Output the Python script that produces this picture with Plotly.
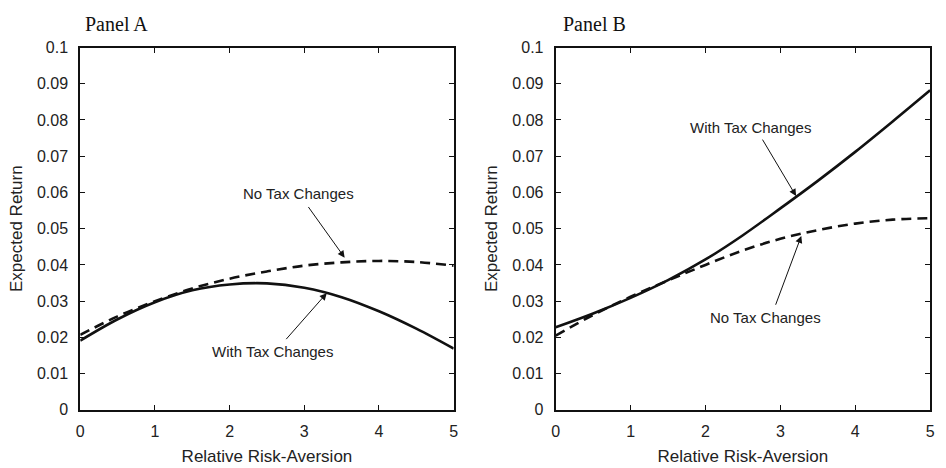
import plotly.graph_objects as go

# ---- data ----
risk_aversion = [0, 0.5, 1, 1.5, 2, 2.5, 3, 3.5, 4, 4.5, 5]
a_with_tax = [0.0191, 0.0250, 0.0297, 0.0330, 0.0346, 0.0349, 0.0337, 0.0311, 0.0272, 0.0224, 0.0169]
a_no_tax = [0.0207, 0.0258, 0.0300, 0.0335, 0.0362, 0.0382, 0.0398, 0.0407, 0.0411, 0.0408, 0.0398]
b_with_tax = [0.0228, 0.0266, 0.0309, 0.0358, 0.0415, 0.0482, 0.0556, 0.0632, 0.0712, 0.0796, 0.0882]
b_no_tax = [0.0205, 0.0262, 0.0312, 0.0357, 0.0400, 0.0440, 0.0472, 0.0496, 0.0514, 0.0525, 0.0529]

x_ticks = [0, 1, 2, 3, 4, 5]
y_ticks = [0, 0.01, 0.02, 0.03, 0.04, 0.05, 0.06, 0.07, 0.08, 0.09, 0.1]
y_tick_labels = ["0", "0.01", "0.02", "0.03", "0.04", "0.05", "0.06", "0.07", "0.08", "0.09", "0.1"]

panel_titles = ["Panel A", "Panel B"]
x_title = "Relative Risk-Aversion"
y_title = "Expected Return"
label_with = "With Tax Changes"
label_no = "No Tax Changes"

W, H = 946, 468
fig = go.Figure()

line_solid = dict(color="#111111", width=2.6)
line_dash = dict(color="#111111", width=2.6, dash="10px,6px")

fig.add_trace(go.Scatter(x=risk_aversion, y=a_no_tax, mode="lines", line=line_dash,
                         line_shape="spline", xaxis="x", yaxis="y", showlegend=False))
fig.add_trace(go.Scatter(x=risk_aversion, y=a_with_tax, mode="lines", line=line_solid,
                         line_shape="spline", xaxis="x", yaxis="y", showlegend=False))
fig.add_trace(go.Scatter(x=risk_aversion, y=b_no_tax, mode="lines", line=line_dash,
                         line_shape="spline", xaxis="x2", yaxis="y2", showlegend=False))
fig.add_trace(go.Scatter(x=risk_aversion, y=b_with_tax, mode="lines", line=line_solid,
                         line_shape="spline", xaxis="x2", yaxis="y2", showlegend=False))

tick_font = dict(family="Liberation Sans, Arial, sans-serif", size=16, color="#222222")
title_font = dict(family="Liberation Sans, Arial, sans-serif", size=17, color="#222222")

def xax(domain, anchor):
    return dict(domain=domain, anchor=anchor, range=[0, 5], tickvals=x_ticks,
                ticks="inside", ticklen=5, tickwidth=1, tickcolor="#111111",
                showline=True, linecolor="#111111", linewidth=2, mirror="ticks",
                showgrid=False, zeroline=False, tickfont=tick_font, ticklabelstandoff=6,
                title=dict(text=x_title, font=title_font, standoff=11))

def yax(domain, anchor):
    return dict(domain=domain, anchor=anchor, range=[0, 0.1], tickvals=y_ticks,
                ticktext=y_tick_labels,
                ticks="inside", ticklen=5, tickwidth=1, tickcolor="#111111",
                showline=True, linecolor="#111111", linewidth=2, mirror="ticks",
                showgrid=False, zeroline=False, tickfont=tick_font, ticklabelstandoff=7,
                title=dict(text=y_title, font=title_font, standoff=10))

ydom = [51 / H, 427 / H]
fig.update_layout(
    width=W, height=H,
    margin=dict(l=0, r=0, t=0, b=0),
    paper_bgcolor="white", plot_bgcolor="white",
    xaxis=xax([77 / W, 454 / W], "y"),
    yaxis=yax(ydom, "x"),
    xaxis2=xax([557 / W, 935 / W], "y2"),
    yaxis2=yax(ydom, "x2"),
)

ann_font = dict(family="Liberation Sans, Arial, sans-serif", size=15, color="#222222")
annotations = []

def arrow(xref, yref, tip, tail):
    return dict(x=tip[0], y=tip[1], ax=tail[0], ay=tail[1], xref=xref, yref=yref,
                axref=xref, ayref=yref, showarrow=True, arrowhead=2, arrowsize=1.4,
                arrowwidth=1, arrowcolor="#111111", text="", standoff=0)

def label(xref, yref, pos, text):
    return dict(x=pos[0], y=pos[1], xref=xref, yref=yref, text=text, showarrow=False,
                font=ann_font, xanchor="center", yanchor="middle")

# Panel A
annotations.append(label("x", "y", (2.92, 0.0598), label_no))
annotations.append(arrow("x", "y", (3.54, 0.0420), (3.04, 0.0564)))
annotations.append(label("x", "y", (2.58, 0.0160), label_with))
annotations.append(arrow("x", "y", (3.30, 0.0322), (2.74, 0.0191)))
# Panel B
annotations.append(label("x2", "y2", (2.60, 0.0779), label_with))
annotations.append(arrow("x2", "y2", (3.21, 0.0590), (2.75, 0.0750)))
annotations.append(label("x2", "y2", (2.80, 0.0256), label_no))
annotations.append(arrow("x2", "y2", (3.28, 0.0480), (2.93, 0.0286)))

# Panel titles
serif = dict(family="Liberation Serif, Times New Roman, serif", size=20, color="#111111")
annotations.append(dict(x=80 / W, y=1 - 17 / H, xref="paper", yref="paper", text=panel_titles[0],
                        showarrow=False, font=serif, xanchor="left", yanchor="middle"))
annotations.append(dict(x=562 / W, y=1 - 17 / H, xref="paper", yref="paper", text=panel_titles[1],
                        showarrow=False, font=serif, xanchor="left", yanchor="middle"))

fig.update_layout(annotations=annotations)
fig.write_html("out.html")
